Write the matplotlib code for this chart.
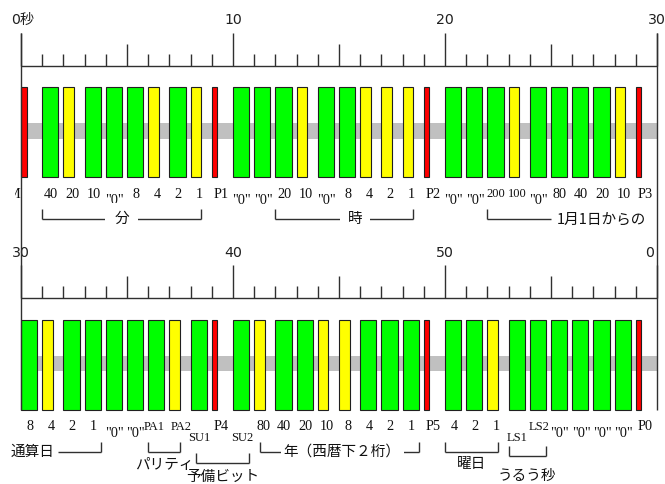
import matplotlib
matplotlib.use('Agg')
import matplotlib.pyplot as plt
from matplotlib.transforms import Bbox, TransformedBbox

# ---------------- data ----------------
codes = ['M', '0', '1', '0', '0', '0', '1', '0', '1', 'M',
         '0', '0', '0', '1', '0', '0', '1', '1', '1', 'M',
         '0', '0', '0', '1', '0', '0', '0', '0', '1', 'M',
         '0', '1', '0', '0', '0', '0', '0', '1', '0', 'M',
         '0', '1', '0', '0', '1', '1', '0', '0', '0', 'M',
         '0', '0', '1', '0', '0', '0', '0', '0', '0', 'M']
bit_labels = ['M', '40', '20', '10', '"0"', '8', '4', '2', '1', 'P1',
              '"0"', '"0"', '20', '10', '"0"', '8', '4', '2', '1', 'P2',
              '"0"', '"0"', '200', '100', '"0"', '80', '40', '20', '10', 'P3',
              '8', '4', '2', '1', '"0"', '"0"', 'PA1', 'PA2', 'SU1', 'P4',
              'SU2', '80', '40', '20', '10', '8', '4', '2', '1', 'P5',
              '4', '2', '1', 'LS1', 'LS2', '"0"', '"0"', '"0"', '"0"', 'P0']
pulse_width = {'0': 0.76, '1': 0.5, 'M': 0.26}
pulse_color = {'0': '#00ff00', '1': '#ffff00', 'M': '#ff0000'}
tick_labels_top = ['0秒', '10', '20', '30']
tick_labels_bottom = ['30', '40', '50', '0']
group_names = ['分', '時', '1月1日からの', '通算日', 'パリティ', '予備ビット',
               '年（西暦下２桁）', '曜日', 'うるう秒']
group_first = [1, 12, 22, 30, 36, 38, 41, 50, 53]
group_last = [8, 18, 24, 33, 37, 40, 48, 52, 54]

# ---------------- layout / style ----------------
W, H = 665, 484
X0 = 21.0          # pixel of second 0
PX = 21.2          # pixels per second
ROW_DY = 232.6     # vertical offset of second row (pixels)
JP = ['Noto Sans CJK JP', 'DejaVu Sans']
SERIF = ['Liberation Serif', 'DejaVu Serif']
LINE = '#303030'
JP_SIZE = 10.5
BIT_SIZE = 10.3
BIT_SIZE_3 = 9.0
label_dx = {'PA1': -0.12, 'PA2': 0.13}

group_style = [
    dict(kind='gap', ly=219.3, pad=0.62),
    dict(kind='gap', ly=219.3, pad=0.5, tx=0.5),
    dict(kind='tail', ly=219.3),
    dict(kind='head', ly=219.3),
    dict(kind='below', ly=219.3, ty=232.3),
    dict(kind='below', ly=230.4, ty=244.4, inset=0.26),
    dict(kind='gap', ly=219.3, pad=0.2, inset=0.25, tx=0.15),
    dict(kind='below', ly=219.3, ty=231.4),
    dict(kind='below', ly=223.1, ty=243.4),
]

fig = plt.figure(figsize=(W / 100, H / 100), dpi=100)
ax = fig.add_axes([0, 0, 1, 1])
ax.set_xlim(-X0 / PX, (W - X0) / PX)
ax.set_ylim(H, 0)
ax.axis('off')

# side lines of both panels
ax.vlines([0, 30], 33, 410, color=LINE, lw=1.0, zorder=4)

for row in range(2):
    dy = row * ROW_DY
    secs = list(range(30 * row, 30 * row + 30))
    xs = [s - 30 * row for s in secs]
    ax.fill_between([0, 30], 123.3 + dy, 138.6 + dy, color='#c0c0c0', lw=0, zorder=1)
    ax.bar(xs, [90] * 30, width=[pulse_width[codes[s]] for s in secs],
           bottom=87 + dy, align='edge',
           color=[pulse_color[codes[s]] for s in secs],
           edgecolor='#202020', linewidth=0.8, zorder=2)
    ax.hlines(65.7 + dy, 0, 30, color=LINE, lw=1.0, zorder=3)
    for t in range(31):
        L = 33 if t % 10 == 0 else (22 if t % 5 == 0 else 12)
        ax.vlines(t, 65.7 + dy - L, 65.7 + dy, color=LINE, lw=1.0, zorder=3)
    labels = tick_labels_top if row == 0 else tick_labels_bottom
    for i, lab in enumerate(labels):
        x = 10 * i
        ha = 'center'
        if row == 1 and i == 3:
            x, ha = 30 - 0.15, 'right'
        if row == 0 and i == 0:
            x = 0.1
        ax.text(x, 20 + dy, lab, ha=ha, va='center', fontsize=10.2,
                family=['DejaVu Sans', 'Noto Sans CJK JP'], color='#202020')

# bit labels
clip = TransformedBbox(Bbox([[15 / W, 0], [1, 1]]), fig.transFigure)
for s, lab in enumerate(bit_labels):
    row = s // 30
    dy = row * ROW_DY
    x = s - 30 * row + 0.42 + label_dx.get(lab, 0)
    shift = 0
    if lab == '"0"':
        shift = 7
    elif lab in ('SU1', 'SU2', 'LS1'):
        shift = 11
    size = BIT_SIZE_3 if len(lab) == 3 and lab != '"0"' else BIT_SIZE
    if s == 0:
        t = ax.text(-0.33, 194 + dy, lab, ha='center', va='center', fontsize=size,
                    family=SERIF, color='#101010', clip_on=True)
        t.set_clip_box(clip)
        continue
    ax.text(x, 194 + dy + shift, lab, ha='center', va='center', fontsize=size,
            family=SERIF, color='#101010')

# group brackets
TL = 10
for name, first, last, st in zip(group_names, group_first, group_last, group_style):
    row = first // 30
    dy = row * ROW_DY
    x1 = first - 30 * row + st.get('inset', 0)
    x2 = last - 30 * row + pulse_width[codes[last]]
    ly = st['ly'] + dy
    kind = st['kind']
    kw = dict(color=LINE, lw=1.0)
    if kind in ('gap', 'below'):
        ax.hlines(ly, x1, x2, **kw)
        ax.vlines([x1, x2], ly - TL, ly, **kw)
        if kind == 'gap':
            ax.text((x1 + x2) / 2 + st.get('tx', 0), ly, name, ha='center', va='center',
                    fontsize=JP_SIZE, family=JP, color='#101010',
                    bbox=dict(boxstyle='square,pad=%g' % st['pad'], fc='white', ec='none'))
        else:
            ax.text((x1 + x2) / 2, st['ty'] + dy, name, ha='center', va='center',
                    fontsize=JP_SIZE, family=JP, color='#101010')
    elif kind == 'tail':
        xe = last + 1 - 30 * row
        ax.hlines(ly, x1, xe, **kw)
        ax.vlines(x1, ly - TL, ly, **kw)
        ax.text(xe + 0.27, ly, name, ha='left', va='center',
                fontsize=JP_SIZE, family=JP, color='#101010')
    elif kind == 'head':
        xs_ = x1 + 1.75
        ax.hlines(ly, xs_, x2, **kw)
        ax.vlines(x2, ly - TL, ly, **kw)
        ax.text(x1 + 1.6, ly, name, ha='right', va='center',
                fontsize=JP_SIZE, family=JP, color='#101010')

fig.savefig('out.png', dpi=100, facecolor='white')
